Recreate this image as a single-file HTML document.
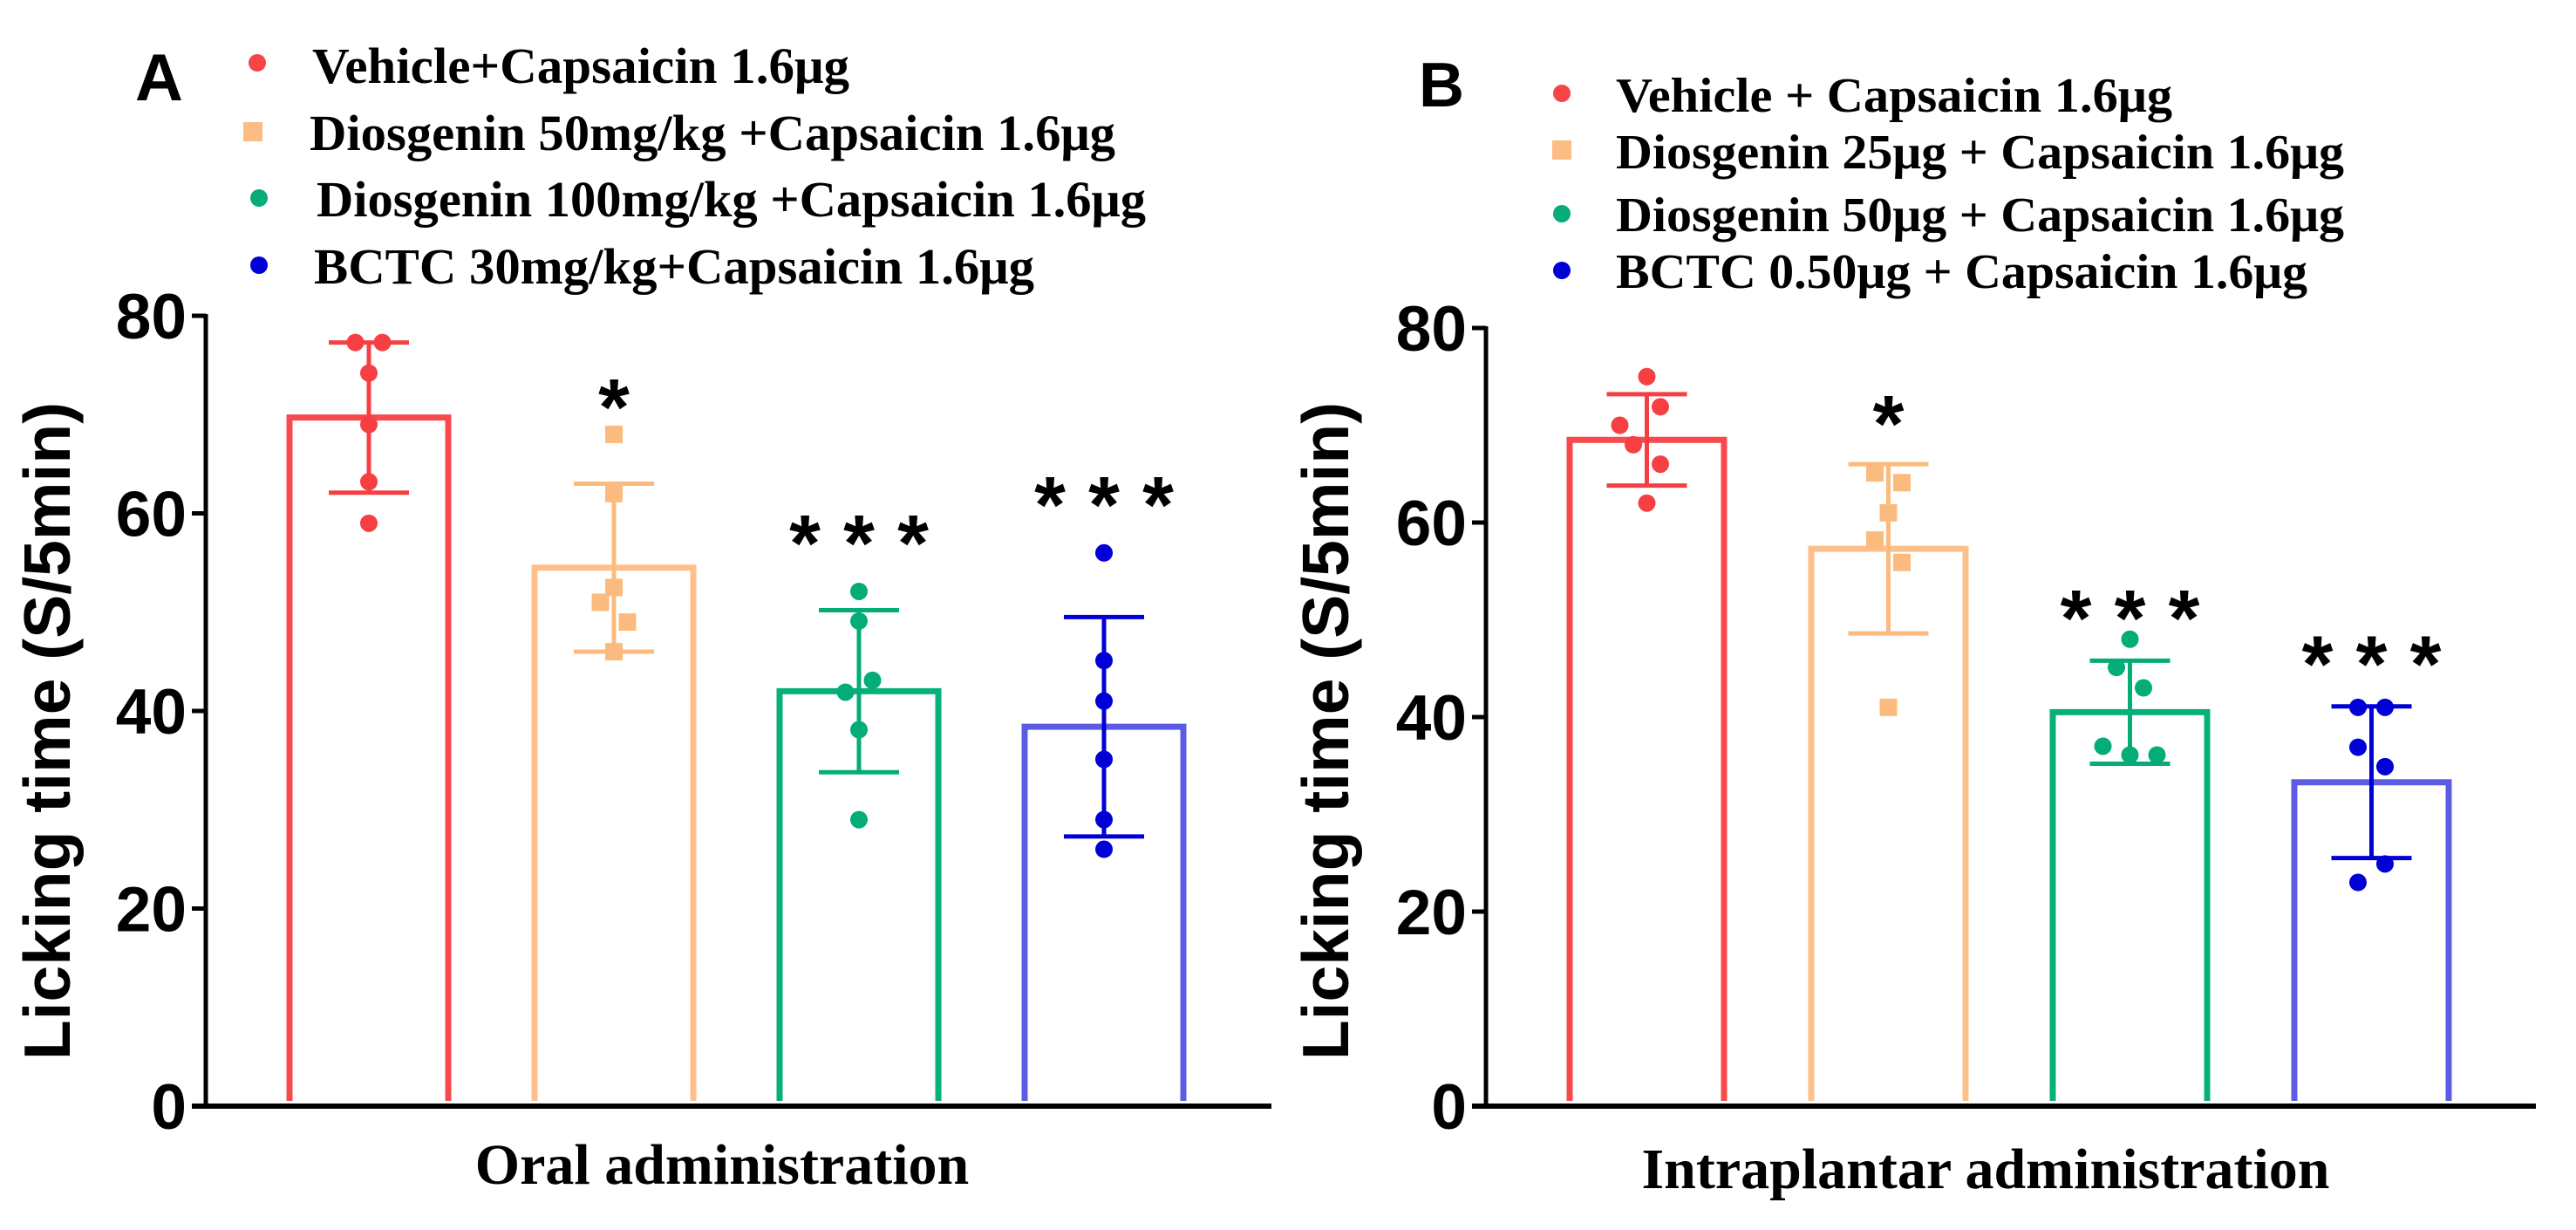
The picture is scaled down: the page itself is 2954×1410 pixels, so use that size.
<!DOCTYPE html>
<html><head><meta charset="utf-8"><style>
html,body{margin:0;padding:0;background:#fff;}
svg{display:block;}
.sans{font-family:"Liberation Sans",Arial,sans-serif;font-weight:bold;}
.serif{font-family:"Liberation Serif","Times New Roman",serif;font-weight:bold;}
</style></head><body>
<svg id="chart" xmlns="http://www.w3.org/2000/svg" width="2954" height="1410" viewBox="0 0 2954 1410">
<rect width="2954" height="1410" fill="#fff"/>
<text class="sans" x="155" y="115" font-size="76">A</text>
<text class="sans" x="1627" y="122" font-size="72">B</text>
<g id="legA">
 <circle cx="295" cy="72" r="10" fill="#f64447"/>
 <text class="serif" x="358" y="95" font-size="58" textLength="616" lengthAdjust="spacingAndGlyphs">Vehicle+Capsaicin 1.6μg</text>
 <rect x="279" y="140" width="22" height="22" fill="#fcbd84"/>
 <text class="serif" x="355" y="172" font-size="58" textLength="924" lengthAdjust="spacingAndGlyphs">Diosgenin 50mg/kg +Capsaicin 1.6μg</text>
 <circle cx="297" cy="227" r="10" fill="#06ad78"/>
 <text class="serif" x="363" y="248" font-size="58" textLength="951" lengthAdjust="spacingAndGlyphs">Diosgenin 100mg/kg +Capsaicin 1.6μg</text>
 <circle cx="297" cy="304" r="10" fill="#0000d6"/>
 <text class="serif" x="360" y="325" font-size="58" textLength="826" lengthAdjust="spacingAndGlyphs">BCTC 30mg/kg+Capsaicin 1.6μg</text>
</g>
<g id="legB">
 <circle cx="1791" cy="107" r="10" fill="#f64447"/>
 <text class="serif" x="1853" y="128" font-size="56" textLength="638" lengthAdjust="spacingAndGlyphs">Vehicle + Capsaicin 1.6μg</text>
 <rect x="1780" y="161" width="22" height="22" fill="#fcbd84"/>
 <text class="serif" x="1853" y="193" font-size="56" textLength="835" lengthAdjust="spacingAndGlyphs">Diosgenin 25μg + Capsaicin 1.6μg</text>
 <circle cx="1791" cy="245" r="10" fill="#06ad78"/>
 <text class="serif" x="1853" y="265" font-size="56" textLength="835" lengthAdjust="spacingAndGlyphs">Diosgenin 50μg + Capsaicin 1.6μg</text>
 <circle cx="1791" cy="310" r="10" fill="#0000d6"/>
 <text class="serif" x="1853" y="330" font-size="56" textLength="793" lengthAdjust="spacingAndGlyphs">BCTC 0.50μg + Capsaicin 1.6μg</text>
</g>
</svg>
<script>
var yTicks = [0, 20, 40, 60, 80];
var tickLabels = ['0', '20', '40', '60', '80'];
var categoriesA = ['Vehicle', 'Diosgenin 50mg/kg', 'Diosgenin 100mg/kg', 'BCTC 30mg/kg'];
var meanA = [69.7, 54.5, 42.0, 38.4];
var sdA = [7.6, 8.5, 8.2, 11.1];
var pointsA = [[77.3,77.3,74.2,69,63.2,59],[68,62,52.5,51,49,46],[52.1,49.1,43.1,41.9,38.1,29],[56,45.1,41,35.1,29,26]];
var jitterA = [[-1,1,0,0,0,0],[0,0,0,-1,1,0],[0,0,1,-1,0,0],[0,0,0,0,0,0]];
var sigLabelA = ['', '*', '***', '***'];
var sigValueA = [0, 72.2, 58.4, 62.3];
var categoriesB = ['Vehicle', 'Diosgenin 25ug', 'Diosgenin 50ug', 'BCTC 0.50ug'];
var meanB = [68.5, 57.3, 40.5, 33.3];
var sdB = [4.7, 8.7, 5.3, 7.8];
var pointsB = [[75,71.9,70,68,66,62],[65.1,64.1,61,58.2,55.9,41],[48,45.1,43,37,36.1,36.1],[41,41,36.9,34.9,24.9,23]];
var jitterB = [[0,1,-2,-1,1,0],[-1,1,0,-1,1,0],[0,-1,1,-2,0,2],[-1,1,-1,1,1,-1]];
var sigLabelB = ['', '*', '***', '***'];
var sigValueB = [0, 71.6, 51.6, 46.9];

var NS = 'http://www.w3.org/2000/svg';
var svg = document.getElementById('chart');
var barColors = ['#f84a4d', '#fdc08a', '#07b07b', '#5b5be3'];
var ptColors = ['#f53f43', '#fcbb7e', '#04ac77', '#0000d6'];
function mk(tag, attrs, parent) {
  var e = document.createElementNS(NS, tag);
  for (var k in attrs) e.setAttribute(k, attrs[k]);
  (parent || svg).appendChild(e);
  return e;
}
function drawPanel(p) {
  var g = mk('g', {});
  
  
  function y(v) { return p.y0 - v * (p.y0 - p.y80) / 80; }
  function cx(i) { return p.barLeft + i * p.pitch + p.barW / 2; }
  // axes
  var ya = mk('line', {x1: p.ax, y1: p.y80 - 2, x2: p.ax, y2: p.y0, stroke: '#000', 'stroke-width': 5}, g);
  
  
  var xa = mk('line', {x1: p.ax - 16, y1: p.y0, x2: p.xEnd, y2: p.y0, stroke: '#000', 'stroke-width': 6}, g);
  
  
  for (var t = 0; t < yTicks.length; t++) {
    var ty = y(yTicks[t]);
    var tk = mk('line', {x1: p.ax - 16, y1: ty, x2: p.ax, y2: ty, stroke: '#000', 'stroke-width': 5}, g);
    
    
    var tl = mk('text', {x: p.ax - 22, y: ty + 26, 'text-anchor': 'end', 'font-size': 73, 'class': 'sans'}, g);
    tl.textContent = tickLabels[t];
    
    
  }
  var yt = mk('text', {x: 0, y: 0, 'text-anchor': 'middle', 'font-size': 75, 'class': 'sans', transform: 'translate(' + (p.titleX + 27) + ',' + 838 + ') rotate(-90)'}, g);
  yt.textContent = 'Licking time (S/5min)';
  
  
  var xt = mk('text', {x: p.xLabelX, y: p.xLabelY, 'text-anchor': 'middle', 'font-size': 66, 'class': 'serif'}, g);
  xt.textContent = p.xLabel;
  
  
  for (var i = 0; i < p.mean.length; i++) {
    var L = p.barLeft + i * p.pitch, R = L + p.barW, top = y(p.mean[i]), bot = p.y0 - 6;
    var bar = mk('path', {d: 'M' + L + ' ' + bot + 'V' + top + 'H' + R + 'V' + bot, fill: 'none', stroke: barColors[i], 'stroke-width': 7}, g);
    
    
    var c = cx(i), hi = y(p.mean[i] + p.sd[i]), lo = y(p.mean[i] - p.sd[i]);
    var eb = mk('path', {d: 'M' + c + ' ' + hi + 'V' + lo + 'M' + (c - 46) + ' ' + hi + 'H' + (c + 46) + 'M' + (c - 46) + ' ' + lo + 'H' + (c + 46), fill: 'none', stroke: ptColors[i], 'stroke-width': 5}, g);
    
    
    for (var j = 0; j < p.points[i].length; j++) {
      var px = c + p.jitter[i][j] * 15.5, py = y(p.points[i][j]), pt;
      if (i === 1) pt = mk('rect', {x: px - 10, y: py - 10, width: 20, height: 20, fill: ptColors[i]}, g);
      else pt = mk('circle', {cx: px, cy: py, r: 10, fill: ptColors[i]}, g);
      
      
    }
    if (p.sig[i]) {
      var n = p.sig[i].length;
      for (var k = 0; k < n; k++) {
        var sx = c + (k - (n - 1) / 2) * 62;
        var st = mk('text', {x: sx, y: y(p.sigV[i]) + 48, 'text-anchor': 'middle', 'font-size': 92, 'class': 'sans'}, g);
        st.textContent = '*';
        
        
      }
    }
  }
}
drawPanel({id: 'a', ax: 236, xEnd: 1458, y0: 1268, y80: 362, barLeft: 332, pitch: 281, barW: 182,
  mean: meanA, sd: sdA, points: pointsA, jitter: jitterA, sig: sigLabelA, sigV: sigValueA,
  titleX: 53, xLabel: 'Oral administration', xLabelX: 828, xLabelY: 1357});
drawPanel({id: 'b', ax: 1704, xEnd: 2908, y0: 1268, y80: 376, barLeft: 1800, pitch: 277, barW: 177,
  mean: meanB, sd: sdB, points: pointsB, jitter: jitterB, sig: sigLabelB, sigV: sigValueB,
  titleX: 1519, xLabel: 'Intraplantar administration', xLabelX: 2277, xLabelY: 1362});
</script>
</body></html>
